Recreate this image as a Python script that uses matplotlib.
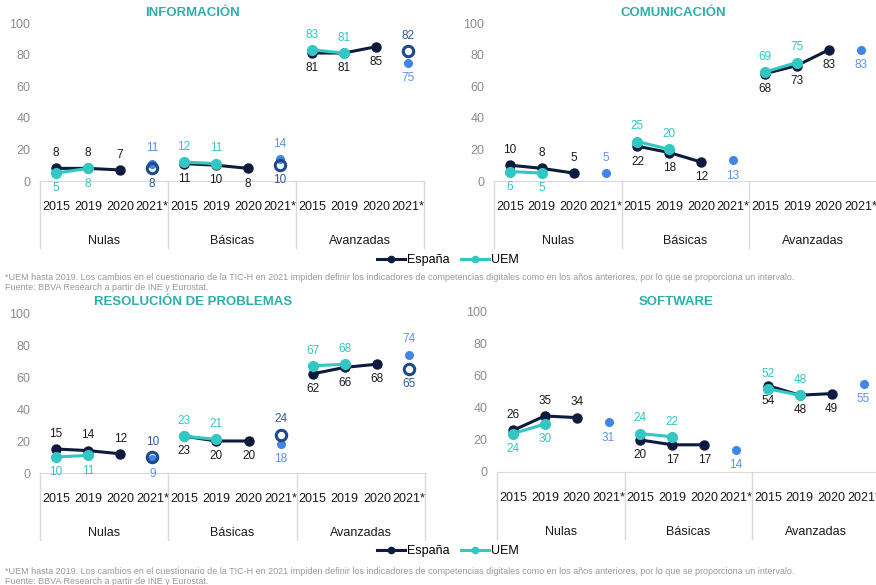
import matplotlib
matplotlib.use("Agg")
import matplotlib.pyplot as plt
from matplotlib.lines import Line2D
from matplotlib.transforms import blended_transform_factory

plt.rcParams["font.family"] = ["Liberation Sans", "DejaVu Sans"]

# --- datos -------------------------------------------------------------
years = ["2015", "2019", "2020", "2021*"]
groups = ["Nulas", "Básicas", "Avanzadas"]

info_espana = [[8, 8, 7], [11, 10, 8], [81, 81, 85]]
info_uem = [[5, 8], [12, 11], [83, 81]]
info_ring = [8, 10, 82]
info_dot = [11, 14, 75]

com_espana = [[10, 8, 5], [22, 18, 12], [68, 73, 83]]
com_uem = [[6, 5], [25, 20], [69, 75]]
com_ring = [None, None, None]
com_dot = [5, 13, 83]

res_espana = [[15, 14, 12], [23, 20, 20], [62, 66, 68]]
res_uem = [[10, 11], [23, 21], [67, 68]]
res_ring = [10, 24, 65]
res_dot = [9, 18, 74]

soft_espana = [[26, 35, 34], [20, 17, 17], [54, 48, 49]]
soft_uem = [[24, 30], [24, 22], [52, 48]]
soft_ring = [None, None, None]
soft_dot = [31, 14, 55]

footnote = ("*UEM hasta 2019. Los cambios en el cuestionario de la TIC-H en 2021 impiden definir "
            "los indicadores de competencias digitales como en los años anteriores, por lo que se "
            "proporciona un intervalo.")
source = "Fuente: BBVA Research a partir de INE y Eurostat."

# --- estilo ------------------------------------------------------------
NAVY = "#0d1b3e"
TEAL = "#33c7c4"
TITLE = "#2eaeab"
DOT = "#3f86e6"
DOT_TXT = "#5a92e8"
RING = "#1d4a8c"
RING_TXT = "#2c5a9c"
GRID = "#d9d9d9"
GREY = "#8c8c8c"

W, H = 876, 585
fig = plt.figure(figsize=(W / 100, H / 100), dpi=100)


def add_panel(x0, x1, y0, y100):
    # ejes colocados en pixeles de la figura
    ax = fig.add_axes([x0 / W, 1 - y0 / H, (x1 - x0) / W, (y0 - y100) / H])
    return ax, y0 - y100


def label(ax, x, y, txt, side, color):
    ax.annotate(str(txt), (x, y), xytext=(0, 11 * side), textcoords="offset points",
                ha="center", va="center", fontsize=8.5, color=color, annotation_clip=False)


def draw_panel(ax, h, espana, uem, ring, dot, dot_side):
    ax.set_xlim(-0.5, 11.5)
    ax.set_ylim(0, 100)
    for s in ("top", "right", "left"):
        ax.spines[s].set_visible(False)
    ax.spines["bottom"].set_color(GRID)
    ax.set_yticks(range(0, 101, 20))
    ax.tick_params(axis="y", length=0, labelsize=9, labelcolor=GREY, pad=7)
    ax.set_xticks([])

    # eje x de dos niveles: años y grupos
    trans = blended_transform_factory(ax.transData, ax.transAxes)
    for g in range(4):
        ax.plot([4 * g - 0.5] * 2, [0, -67 / h], transform=trans, color=GRID,
                lw=1, clip_on=False)
    for g, name in enumerate(groups):
        for i, yr in enumerate(years):
            ax.text(4 * g + i, -26 / h, yr, transform=trans, ha="center", va="center",
                    fontsize=9, color="#1a1a1a")
        ax.text(4 * g + 1.5, -60 / h, name, transform=trans, ha="center", va="center",
                fontsize=9, color="#1a1a1a")

    esp_above = [True, False, False]
    for g in range(3):
        xs = [4 * g + i for i in range(3)]
        ax.plot(xs, espana[g], color=NAVY, lw=2.2, marker="o", ms=6.5, zorder=3)
        ax.plot(xs[:2], uem[g], color=TEAL, lw=2.2, marker="o", ms=7, zorder=4)
        s = 1 if esp_above[g] else -1
        for x, v in zip(xs, espana[g]):
            label(ax, x, v, v, s, "#1a1a1a")
        for x, v in zip(xs, uem[g]):
            label(ax, x, v, v, -s, TEAL)

        # 2021: intervalo (punto relleno y circulo abierto)
        x21 = 4 * g + 3
        ax.plot(x21, dot[g], "o", color=DOT, ms=5.5, zorder=3)
        if ring[g] is None:
            label(ax, x21, dot[g], dot[g], dot_side[g], DOT_TXT)
        else:
            ax.plot(x21, ring[g], "o", mfc="none", mec=RING, mew=2.2, ms=7.5, zorder=4)
            hi = 1 if ring[g] >= dot[g] else -1
            label(ax, x21, ring[g], ring[g], hi, RING_TXT)
            label(ax, x21, dot[g], dot[g], -hi, DOT_TXT)


panels = [
    (40, 424, 181, 23, "INFORMACIÓN", info_espana, info_uem, info_ring, info_dot,
     [1, -1, -1], 193, 13),
    (494, 876.5, 181, 23, "COMUNICACIÓN", com_espana, com_uem, com_ring, com_dot,
     [1, -1, -1], 673, 13),
    (40, 425, 473, 313, "RESOLUCIÓN DE PROBLEMAS", res_espana, res_uem, res_ring, res_dot,
     [-1, -1, -1], 193, 302),
    (497, 879.5, 472, 312, "SOFTWARE", soft_espana, soft_uem, soft_ring, soft_dot,
     [-1, -1, -1], 676, 302),
]

for x0, x1, y0, y100, title, esp, uem, ring, dot, dside, tx, ty in panels:
    ax, h = add_panel(x0, x1, y0, y100)
    draw_panel(ax, h, esp, uem, ring, dot, dside)
    fig.text(tx / W, 1 - ty / H, title, ha="center", va="center", fontsize=9.5,
             fontweight="bold", color=TITLE)

handles = [Line2D([], [], color=NAVY, lw=2.2, marker="o", ms=4.5),
           Line2D([], [], color=TEAL, lw=2.2, marker="o", ms=4.5)]
for ly, fy in [(260, 277), (551, 571)]:
    fig.legend(handles, ["España", "UEM"], loc="center", bbox_to_anchor=(448 / W, 1 - ly / H),
               ncol=2, frameon=False, fontsize=9, handlelength=2.2, columnspacing=0.9,
               handletextpad=0.2, borderpad=0)
    fig.text(5 / W, 1 - fy / H, footnote, ha="left", va="center", fontsize=6.5, color="#999999")
    fig.text(5 / W, 1 - (fy + 11) / H, source, ha="left", va="center", fontsize=6.5,
             color="#999999")

fig.savefig("out.png", dpi=100)
